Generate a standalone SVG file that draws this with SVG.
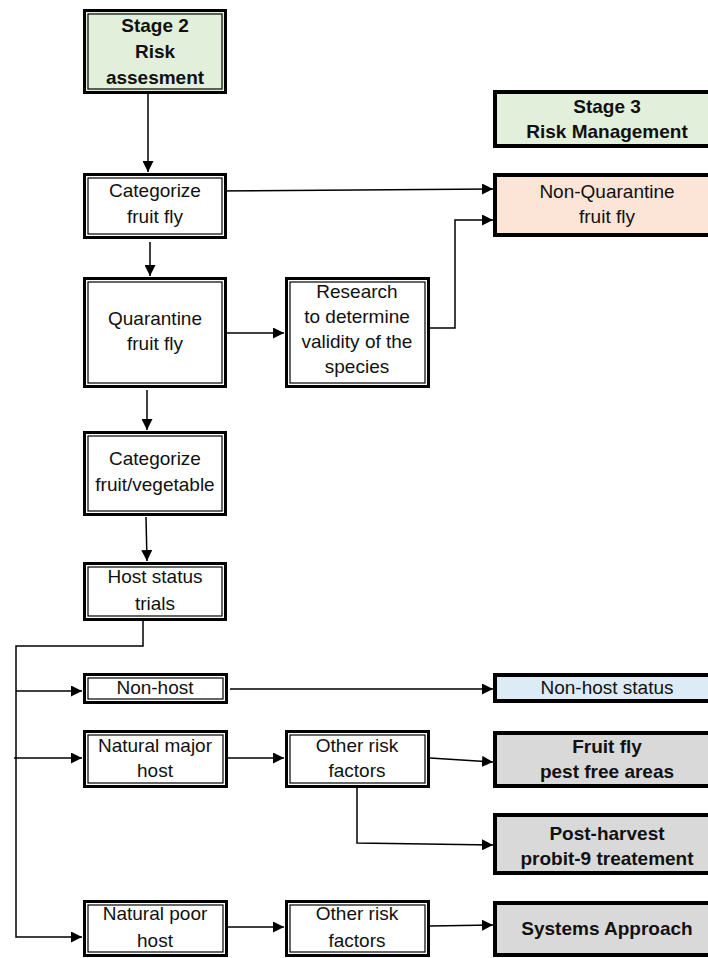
<svg xmlns="http://www.w3.org/2000/svg" width="708" height="958" viewBox="0 0 708 958">
<style>
  text { font-family: "Liberation Sans", Arial, sans-serif; font-size: 19px; fill: #111; text-anchor: middle; }
  .b { font-weight: bold; }
  .outer { fill: #fff; stroke: #000; stroke-width: 3; }
  .inner { fill: none; stroke: #000; stroke-width: 1.2; }
  .thick { stroke: #000; stroke-width: 4; }
  .green { fill: #e2efda; }
  .peach { fill: #fce4d6; }
  .blue { fill: #ddebf7; }
  .gray { fill: #d9d9d9; }
  .conn { fill: none; stroke: #000; stroke-width: 1.5; }
</style>
<defs>
  <marker id="arr" markerUnits="userSpaceOnUse" markerWidth="12" markerHeight="11" refX="11" refY="5.5" orient="auto">
    <path d="M0,0 L11,5.5 L0,11 z" fill="#000"/>
  </marker>
</defs>

<g id="connectors">
  <path class="conn" d="M148,86 V172" marker-end="url(#arr)"/>
  <path class="conn" d="M212,191 L493,189" marker-end="url(#arr)"/>
  <path class="conn" d="M150,242 V276" marker-end="url(#arr)"/>
  <path class="conn" d="M227,333 H284" marker-end="url(#arr)"/>
  <path class="conn" d="M430,328 H455 V220 H493" marker-end="url(#arr)"/>
  <path class="conn" d="M147,390 V430" marker-end="url(#arr)"/>
  <path class="conn" d="M146,517 L147,561" marker-end="url(#arr)"/>
  <path class="conn" d="M143,621 V646 H16 V937 H82" marker-end="url(#arr)"/>
  <path class="conn" d="M16,691 H82" marker-end="url(#arr)"/>
  <path class="conn" d="M14,758 H82" marker-end="url(#arr)"/>
  <path class="conn" d="M230,689 H493" marker-end="url(#arr)"/>
  <path class="conn" d="M228,758 H284" marker-end="url(#arr)"/>
  <path class="conn" d="M430,758 L493,762" marker-end="url(#arr)"/>
  <path class="conn" d="M357,788 V843 L493,845" marker-end="url(#arr)"/>
  <path class="conn" d="M228,927 H284" marker-end="url(#arr)"/>
  <path class="conn" d="M430,926 L493,925" marker-end="url(#arr)"/>
</g>

<g id="stage2">
  <rect class="outer green" x="84.5" y="10.5" width="141" height="82"/>
  <rect class="inner" x="88" y="14" width="134" height="75"/>
  <text class="b" x="155" y="32">Stage 2</text>
  <text class="b" x="155" y="58">Risk</text>
  <text class="b" x="155" y="84">assesment</text>
</g>

<g id="stage3">
  <rect class="thick green" x="495" y="92" width="240" height="54"/>
  <text class="b" x="607" y="113">Stage 3</text>
  <text class="b" x="607" y="138">Risk Management</text>
</g>

<g id="categorize-fruit-fly">
  <rect class="outer" x="84.5" y="174.5" width="141" height="63"/>
  <rect class="inner" x="88" y="178" width="134" height="56"/>
  <text x="155" y="197">Categorize</text>
  <text x="155" y="223">fruit fly</text>
</g>

<g id="non-quarantine">
  <rect class="thick peach" x="495" y="175" width="240" height="60"/>
  <text x="607" y="198">Non-Quarantine</text>
  <text x="607" y="223">fruit fly</text>
</g>

<g id="quarantine">
  <rect class="outer" x="84.5" y="278.5" width="141" height="108"/>
  <rect class="inner" x="88" y="282" width="134" height="101"/>
  <text x="155" y="325">Quarantine</text>
  <text x="155" y="350">fruit fly</text>
</g>

<g id="research">
  <rect class="outer" x="286.5" y="278.5" width="142" height="108"/>
  <rect class="inner" x="290" y="282" width="135" height="101"/>
  <text x="357" y="298">Research</text>
  <text x="357" y="323">to determine</text>
  <text x="357" y="348">validity of the</text>
  <text x="357" y="373">species</text>
</g>

<g id="categorize-fruit-veg">
  <rect class="outer" x="84.5" y="432.5" width="141" height="82"/>
  <rect class="inner" x="88" y="436" width="134" height="75"/>
  <text x="155" y="465">Categorize</text>
  <text x="155" y="491">fruit/vegetable</text>
</g>

<g id="host-status">
  <rect class="outer" x="84.5" y="563.5" width="141" height="56"/>
  <rect class="inner" x="88" y="567" width="134" height="49"/>
  <text x="155" y="583">Host status</text>
  <text x="155" y="610">trials</text>
</g>

<g id="non-host">
  <rect class="outer" x="84.5" y="674.5" width="142" height="28"/>
  <rect class="inner" x="88" y="678" width="135" height="21"/>
  <text x="155" y="694">Non-host</text>
</g>

<g id="non-host-status">
  <rect class="thick blue" x="495" y="675" width="240" height="26"/>
  <text x="607" y="694">Non-host status</text>
</g>

<g id="natural-major-host">
  <rect class="outer" x="84.5" y="731.5" width="142" height="55"/>
  <rect class="inner" x="88" y="735" width="135" height="48"/>
  <text x="155" y="752">Natural major</text>
  <text x="155" y="777">host</text>
</g>

<g id="other-risk-1">
  <rect class="outer" x="286.5" y="731.5" width="142" height="55"/>
  <rect class="inner" x="290" y="735" width="135" height="48"/>
  <text x="357" y="752">Other risk</text>
  <text x="357" y="777">factors</text>
</g>

<g id="fruit-fly-pfa">
  <rect class="thick gray" x="495" y="733" width="240" height="53"/>
  <text class="b" x="607" y="753">Fruit fly</text>
  <text class="b" x="607" y="778">pest free areas</text>
</g>

<g id="post-harvest">
  <rect class="thick gray" x="495" y="815" width="240" height="58"/>
  <text class="b" x="607" y="840">Post-harvest</text>
  <text class="b" x="607" y="865">probit-9 treatement</text>
</g>

<g id="natural-poor-host">
  <rect class="outer" x="84.5" y="901.5" width="142" height="54"/>
  <rect class="inner" x="88" y="905" width="135" height="47"/>
  <text x="155" y="920">Natural poor</text>
  <text x="155" y="947">host</text>
</g>

<g id="other-risk-2">
  <rect class="outer" x="286.5" y="901.5" width="142" height="54"/>
  <rect class="inner" x="290" y="905" width="135" height="47"/>
  <text x="357" y="920">Other risk</text>
  <text x="357" y="947">factors</text>
</g>

<g id="systems-approach">
  <rect class="thick gray" x="495" y="903" width="240" height="52"/>
  <text class="b" x="607" y="935">Systems Approach</text>
</g>
</svg>
